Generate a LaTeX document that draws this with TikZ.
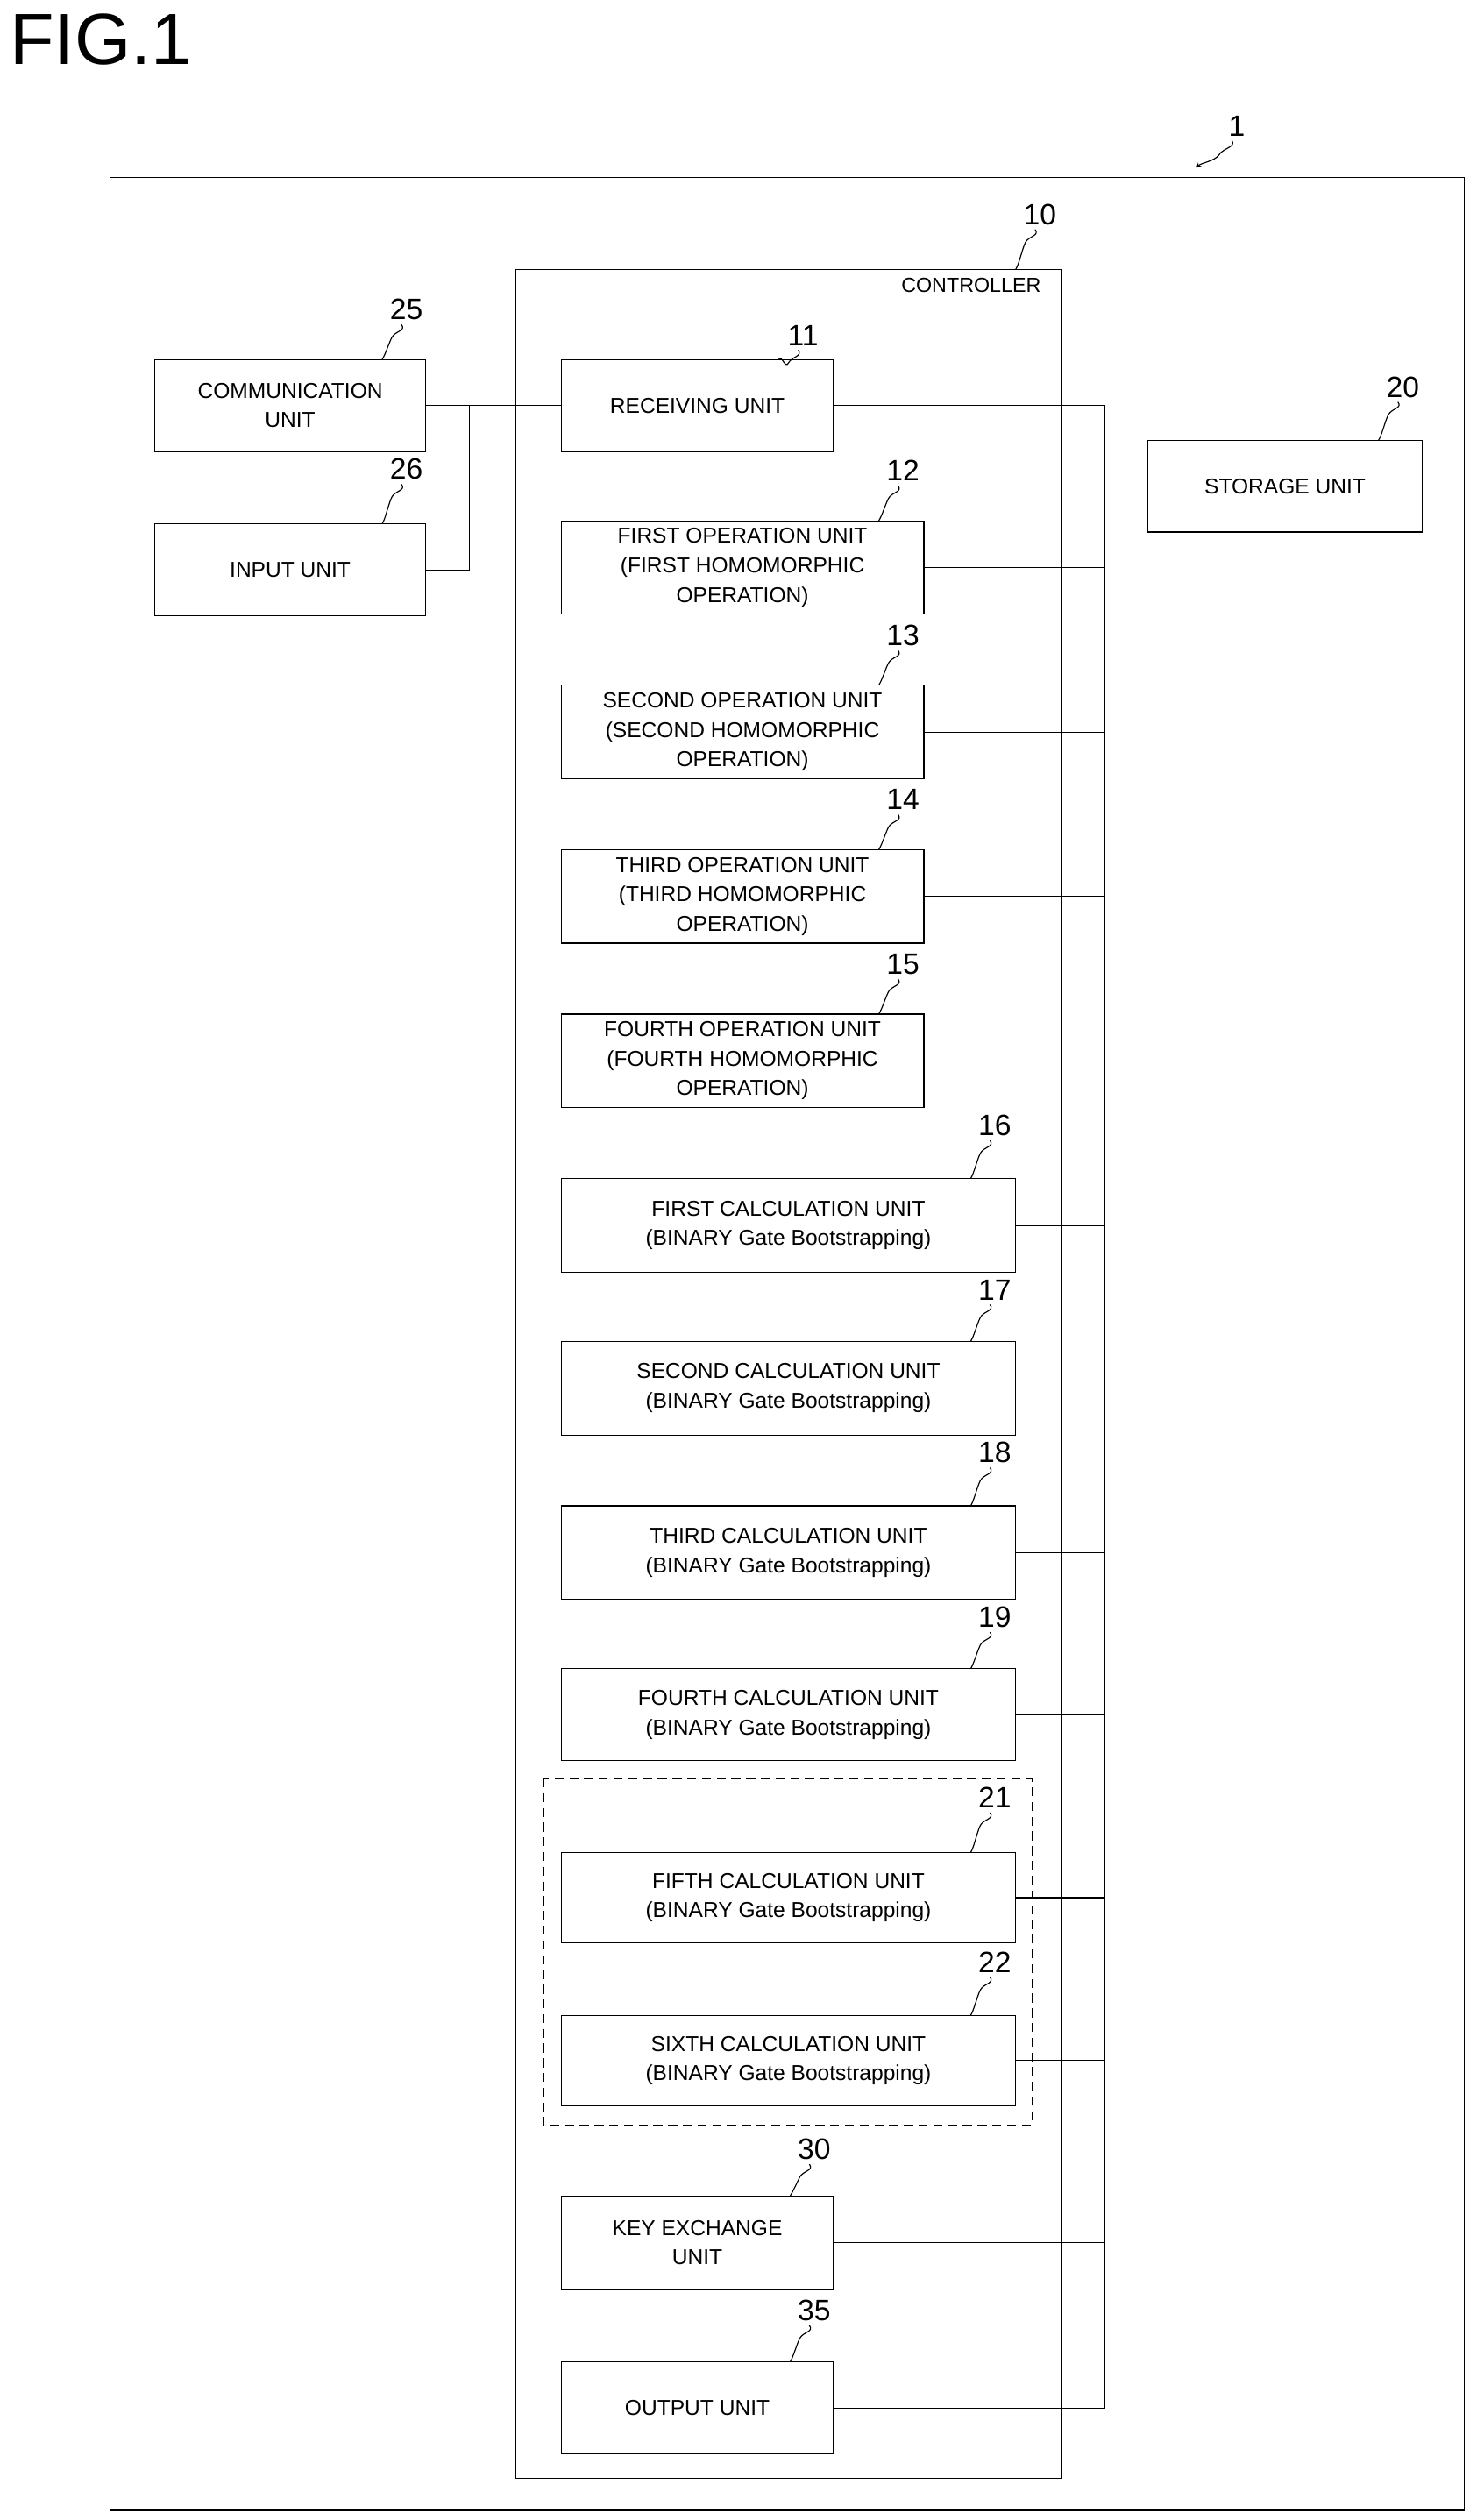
\documentclass[tikz,border=0pt]{standalone}
\usepackage{fontspec}
\setmainfont{Liberation Sans}
\begin{document}
\begin{tikzpicture}[x=0.05cm,y=-0.05cm,
  box/.style={draw,line width=0.9pt,inner sep=0pt,align=center,font=\fontsize{19}{26}\selectfont},
  wire/.style={line width=0.9pt},
  num/.style={font=\fontsize{26}{28}\selectfont,inner sep=1pt},
  lead/.style={line width=0.9pt}]
\useasboundingbox (0,0) rectangle (920,1563);
\node[font=\fontsize{64}{64}\selectfont,anchor=north west] (fig) at (4,6) {FIG.1};
\draw[line width=0.9pt] (68,110) rectangle (908,1557);
\draw[line width=0.9pt] (320,167) rectangle (658,1537);
\draw[line width=1pt,dash pattern=on 8pt off 5pt] (337,1103) rectangle (640,1318);
\node[font=\fontsize{18}{20}\selectfont,anchor=north east] (ctl) at (648,170) {CONTROLLER};
\def\bx#1#2#3#4#5#6{\node[box,minimum width=#4*0.05cm,minimum height=#5*0.05cm] (#1) at (#2,#3) {#6};}
\bx{comm}{180}{251.5}{168}{57}{COMMUNICATION\\UNIT}
\bx{inp}{180}{353.5}{168}{57}{INPUT UNIT}
\bx{recv}{432.5}{251.5}{169}{57}{RECEIVING UNIT}
\bx{stor}{797}{301.5}{170}{57}{STORAGE UNIT}
\bx{op1}{460.5}{352}{225}{58}{FIRST OPERATION UNIT\\(FIRST HOMOMORPHIC\\OPERATION)}
\bx{op2}{460.5}{454}{225}{58}{SECOND OPERATION UNIT\\(SECOND HOMOMORPHIC\\OPERATION)}
\bx{op3}{460.5}{556}{225}{58}{THIRD OPERATION UNIT\\(THIRD HOMOMORPHIC\\OPERATION)}
\bx{op4}{460.5}{658}{225}{58}{FOURTH OPERATION UNIT\\(FOURTH HOMOMORPHIC\\OPERATION)}
\bx{c1}{489}{760}{282}{58}{FIRST CALCULATION UNIT\\(BINARY Gate Bootstrapping)}
\bx{c2}{489}{861}{282}{58}{SECOND CALCULATION UNIT\\(BINARY Gate Bootstrapping)}
\bx{c3}{489}{963}{282}{58}{THIRD CALCULATION UNIT\\(BINARY Gate Bootstrapping)}
\bx{c4}{489}{1063.5}{282}{57}{FOURTH CALCULATION UNIT\\(BINARY Gate Bootstrapping)}
\bx{c5}{489}{1177}{282}{56}{FIFTH CALCULATION UNIT\\(BINARY Gate Bootstrapping)}
\bx{c6}{489}{1278}{282}{56}{SIXTH CALCULATION UNIT\\(BINARY Gate Bootstrapping)}
\bx{key}{432.5}{1391}{169}{58}{KEY EXCHANGE\\UNIT}
\bx{out}{432.5}{1493.5}{169}{57}{OUTPUT UNIT}
% wires
\coordinate (j) at (291,251.5);
\draw[wire] (comm.east) -- (recv.west);
\draw[wire] (inp.east) -| (j);
\coordinate (bt) at (685,251.5);
\coordinate (bb) at (685,1493.5);
\draw[wire] (recv.east) -- (bt) -- (bb) -- (out.east);
\draw[wire] (stor.west) -- (stor.west -| bt);
\foreach \n in {op1,op2,op3,op4,c1,c2,c3,c4,c5,c6,key}
  \draw[wire] (\n.east) -- (\n.east -| bt);
% reference numerals
\def\rn#1#2#3#4#5{\node[num] (#1) at (#2,#3) {#4};
  \draw[lead] (#1.south) ++(-3,2) .. controls +(3,4) and +(2,-4) .. ++(-6,8) .. controls +(-2,4) and +(2,-3) .. (#5);}
\rn{n10}{645}{133}{10}{630,167}
\rn{n25}{252}{192}{25}{237,223}
\rn{n26}{252}{291}{26}{237,325}
\rn{n11}{498}{208}{11}{483,223}
\rn{n20}{870}{240}{20}{855,273}
\rn{n12}{560}{292}{12}{545,323}
\rn{n13}{560}{394}{13}{545,425}
\rn{n14}{560}{496}{14}{545,527}
\rn{n15}{560}{598}{15}{545,629}
\rn{n16}{617}{698}{16}{602,731}
\rn{n17}{617}{800}{17}{602,832}
\rn{n18}{617}{901}{18}{602,934}
\rn{n19}{617}{1003}{19}{602,1035}
\rn{n21}{617}{1115}{21}{602,1149}
\rn{n22}{617}{1217}{22}{602,1250}
\rn{n30}{505}{1333}{30}{490,1362}
\rn{n35}{505}{1433}{35}{490,1465}
\node[num] (n1) at (767,78) {1};
\draw[lead,-stealth] (n1.south) ++(-3,2) .. controls +(3,4) and +(2,-4) .. ++(-8,9) .. controls +(-3,4) and +(3,-3) .. (742,104);
\end{tikzpicture}
\end{document}
